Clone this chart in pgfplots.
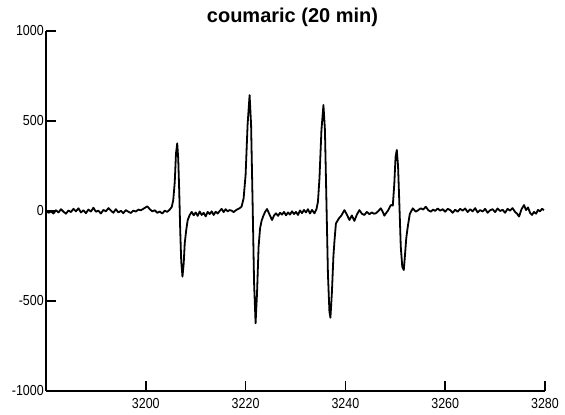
\documentclass[border=0pt]{standalone}
\usepackage{fontspec}
\setmainfont{Liberation Sans}
\newfontfamily\tickfont[FakeStretch=0.86]{Liberation Sans}
\usepackage{pgfplots}
\pgfplotsset{compat=1.18}
\begin{document}
\begin{tikzpicture}
\begin{axis}[
  scale only axis,
  width=499pt, height=360pt,
  xmin=3180, xmax=3280, ymin=-1000, ymax=1000,
  axis x line*=bottom, axis y line*=left,
  axis line style={line width=1.6pt,-},
  every tick/.style={line width=1.6pt,black},
  tick align=inside,
  major tick length=10pt,
  xtick={3200,3220,3240,3260,3280},
  xticklabels={3200,3220,3240,3260,3280},
  ytick={-1000,-500,0,500,1000},
  yticklabels={-1000,-500,0,500,1000},
  tick label style={font=\tickfont\fontsize{14.5}{14.5}\selectfont},
  xticklabel style={inner sep=0pt, yshift=-7pt},
  yticklabel style={inner sep=0pt, xshift=-2pt},
  title={coumaric (20 min)},
  title style={font=\bfseries\fontsize{20}{20}\selectfont, at={(0.5,1)}, anchor=base, xshift=-3pt, yshift=2pt, inner sep=0pt},
]
\coordinate (bl) at (rel axis cs:0,0);
\addplot[black, line width=1.8pt, line join=round] coordinates {
(3180.0,5) (3180.5,-10) (3181.0,-3) (3181.5,-14) (3182.0,4) (3182.5,-8) (3183.0,10) (3183.5,-4) (3184.0,-15) (3184.5,3)
(3185.0,-6) (3185.5,12) (3186.0,-2) (3186.5,15) (3187.0,-8) (3187.5,4) (3188.0,-12) (3188.5,8) (3189.0,-3) (3189.5,18)
(3190.0,-4) (3190.5,2) (3191.0,-14) (3191.5,6) (3192.0,-2) (3192.5,16) (3193.0,3) (3193.5,-10) (3194.0,10) (3194.5,-8)
(3195.0,1) (3195.5,-12) (3196.0,5) (3196.5,-4) (3197.0,-11) (3197.5,2) (3198.0,-3) (3198.5,8) (3199.0,4) (3199.5,12)
(3200.3,26) (3200.8,10) (3201.3,-2) (3201.8,4) (3202.3,-10) (3202.8,-3) (3203.3,-14) (3203.8,2) (3204.3,-5) (3204.8,8)
(3205.2,22) (3205.5,60) (3205.8,160) (3206.05,320) (3206.3,376) (3206.5,290) (3206.7,110) (3206.9,-110) (3207.1,-280) (3207.35,-365)
(3207.6,-290) (3207.8,-180) (3208.1,-106) (3208.4,-50) (3208.8,-22) (3209.2,-5) (3209.6,-24) (3210.0,-8) (3210.4,-27) (3210.8,-3)
(3211.2,-22) (3211.6,-10) (3212.0,-30) (3212.4,-5) (3212.8,-17) (3213.2,-2) (3213.6,-22) (3214.0,-4) (3214.4,-14) (3214.8,0)
(3215.2,12) (3215.6,-6) (3216.0,10) (3216.4,-2) (3216.8,5) (3217.2,2) (3217.6,-6) (3218.0,3) (3218.4,10) (3218.8,15)
(3219.2,25) (3219.6,70) (3220.0,200) (3220.4,480) (3220.8,644) (3221.1,480) (3221.4,50) (3221.7,-400) (3222.0,-624) (3222.3,-450)
(3222.6,-200) (3222.9,-96) (3223.2,-55) (3223.5,-31) (3223.9,-5) (3224.3,11) (3224.8,-20) (3225.3,-50) (3225.7,-25) (3226.1,-13)
(3226.5,-27) (3226.9,-10) (3227.3,-20) (3227.7,-5) (3228.1,-24) (3228.5,-8) (3228.9,-20) (3229.3,-2) (3229.7,-17) (3230.1,-5)
(3230.5,-22) (3230.9,3) (3231.3,-12) (3231.7,6) (3232.1,-8) (3232.5,10) (3232.9,-14) (3233.3,6) (3233.8,-13) (3234.2,10)
(3234.5,52) (3234.8,180) (3235.2,450) (3235.6,589) (3235.9,450) (3236.2,50) (3236.5,-350) (3236.8,-560) (3237.0,-593) (3237.3,-450)
(3237.6,-250) (3237.8,-170) (3238.1,-69) (3238.7,-41) (3239.2,-25) (3239.8,5) (3240.3,-20) (3240.8,-50) (3241.3,-25) (3241.8,-55)
(3242.3,-20) (3242.8,5) (3243.3,-15) (3243.8,-22) (3244.3,-5) (3244.8,-18) (3245.3,-8) (3245.7,-15) (3246.1,-13) (3246.6,0)
(3247.1,15) (3247.5,-5) (3247.8,-26) (3248.2,-10) (3248.6,5) (3249.1,33) (3249.5,30) (3249.8,150) (3250.05,300) (3250.3,339)
(3250.55,250) (3250.8,50) (3251.1,-200) (3251.4,-310) (3251.7,-328) (3251.9,-260) (3252.2,-150) (3252.5,-87) (3252.9,-17) (3253.5,15)
(3254.1,-4) (3254.6,5) (3255.1,15) (3255.6,8) (3256.1,24) (3256.6,5) (3257.1,-4) (3257.6,8) (3258.0,0) (3258.5,14)
(3259.0,2) (3259.5,10) (3260.0,-4) (3260.5,12) (3261.0,5) (3261.5,-10) (3262.0,7) (3262.5,-4) (3263.0,12) (3263.5,2)
(3264.0,14) (3264.5,-6) (3265.0,10) (3265.5,-2) (3266.0,16) (3266.5,-8) (3267.0,5) (3267.5,-3) (3268.0,12) (3268.5,-10)
(3269.0,4) (3269.5,10) (3270.0,-6) (3270.5,14) (3271.0,0) (3271.5,7) (3272.0,-10) (3272.5,12) (3273.0,2) (3273.5,16)
(3274.0,-5) (3274.4,-15) (3274.8,-31) (3275.3,10) (3275.8,33) (3276.2,5) (3276.6,20) (3277.0,-10) (3277.4,-22) (3277.8,-5)
(3278.2,-15) (3278.6,6) (3279.0,-2) (3279.4,12) (3279.8,5)
};
\end{axis}
\pgfresetboundingbox
\path (bl) ++(-46pt,-24pt) rectangle ++(565pt,415pt);
\end{tikzpicture}
\end{document}
